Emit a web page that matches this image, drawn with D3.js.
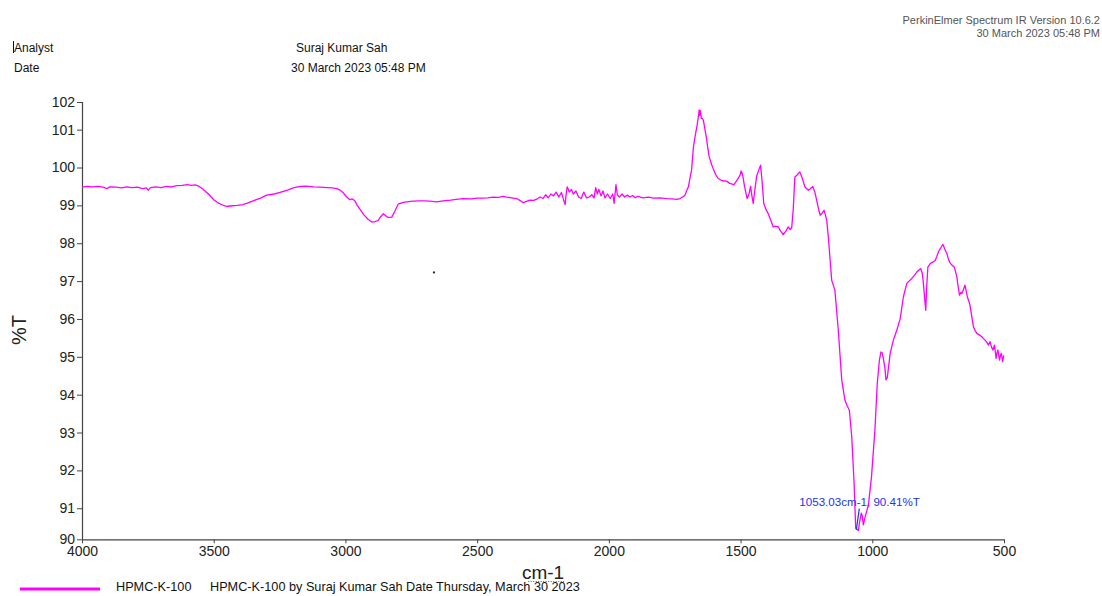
<!DOCTYPE html>
<html>
<head>
<meta charset="utf-8">
<script src="https://cdn.jsdelivr.net/npm/d3@7"></script>
<style>
  body { margin: 0; background: #fff; }
  svg { display: block; }
  text { font-family: "Liberation Sans", Arial, Helvetica, sans-serif; }
</style>
</head>
<body>
<svg id="chart" width="1102" height="596"></svg>
<script>
// FTIR spectrum of HPMC-K-100: [wavenumber (cm-1), %T]
const spectrum = [
  [4000, 99.48], [3980, 99.50], [3960, 99.49], [3940, 99.50], [3920, 99.48], [3905, 99.44],
  [3895, 99.49], [3870, 99.48], [3850, 99.46], [3830, 99.49], [3810, 99.47], [3790, 99.48],
  [3770, 99.44], [3755, 99.46], [3749, 99.40], [3740, 99.47], [3720, 99.49], [3700, 99.47],
  [3680, 99.50], [3660, 99.49], [3640, 99.52], [3620, 99.53], [3600, 99.55], [3585, 99.53],
  [3570, 99.54], [3555, 99.50], [3545, 99.45], [3520, 99.30], [3500, 99.15], [3480, 99.05],
  [3460, 98.99], [3451, 98.97], [3430, 98.99], [3410, 99.00], [3390, 99.02], [3375, 99.05],
  [3350, 99.12], [3320, 99.20], [3299, 99.27], [3270, 99.30], [3248, 99.34], [3220, 99.40],
  [3198, 99.46], [3172, 99.50], [3150, 99.51], [3120, 99.49], [3096, 99.48], [3070, 99.47],
  [3050, 99.46], [3033, 99.44], [3020, 99.40], [3008, 99.33], [2995, 99.22], [2983, 99.15],
  [2975, 99.17], [2965, 99.13], [2955, 99.00], [2945, 98.90], [2930, 98.75], [2915, 98.64],
  [2900, 98.56], [2888, 98.57], [2876, 98.60], [2866, 98.70], [2856, 98.78], [2846, 98.72],
  [2838, 98.68], [2824, 98.69], [2812, 98.85], [2800, 99.03], [2780, 99.08], [2760, 99.10],
  [2743, 99.11], [2720, 99.12], [2700, 99.12], [2680, 99.11], [2653, 99.09], [2630, 99.12],
  [2600, 99.14], [2580, 99.16], [2553, 99.18], [2520, 99.17], [2500, 99.19], [2480, 99.19],
  [2460, 99.20], [2440, 99.22], [2420, 99.21], [2400, 99.24], [2388, 99.22], [2370, 99.20],
  [2350, 99.18], [2335, 99.12], [2325, 99.07], [2315, 99.10], [2300, 99.14], [2285, 99.13],
  [2270, 99.18], [2261, 99.22], [2250, 99.18], [2240, 99.28], [2230, 99.20], [2220, 99.30],
  [2210, 99.25], [2200, 99.35], [2190, 99.22], [2180, 99.34], [2172, 99.15], [2166, 99.02],
  [2162, 99.30], [2158, 99.49], [2150, 99.35], [2142, 99.42], [2135, 99.30], [2125, 99.38],
  [2115, 99.22], [2105, 99.18], [2095, 99.35], [2085, 99.20], [2075, 99.22], [2065, 99.28],
  [2056, 99.20], [2050, 99.47], [2044, 99.30], [2038, 99.42], [2030, 99.25], [2022, 99.38],
  [2015, 99.20], [2005, 99.30], [1995, 99.18], [1985, 99.30], [1980, 99.05], [1975, 99.40],
  [1973, 99.55], [1968, 99.28], [1960, 99.22], [1950, 99.30], [1940, 99.22], [1930, 99.27],
  [1920, 99.22], [1910, 99.26], [1900, 99.20], [1890, 99.24], [1870, 99.20], [1850, 99.22],
  [1830, 99.19], [1806, 99.20], [1780, 99.18], [1760, 99.17], [1742, 99.16], [1730, 99.18],
  [1720, 99.22], [1711, 99.27], [1704, 99.40], [1698, 99.49], [1690, 99.80], [1686, 99.93],
  [1679, 100.54], [1672, 100.85], [1666, 101.07], [1660, 101.35], [1657, 101.52], [1655, 101.38],
  [1652, 101.50], [1649, 101.30], [1645, 101.30], [1641, 101.24], [1635, 101.00], [1630, 100.80],
  [1624, 100.50], [1619, 100.28], [1610, 100.08], [1604, 99.97], [1595, 99.82], [1585, 99.71],
  [1570, 99.65], [1553, 99.64], [1541, 99.58], [1525, 99.55], [1512, 99.68], [1502, 99.80],
  [1498, 99.91], [1492, 99.80], [1485, 99.50], [1475, 99.18], [1468, 99.30], [1462, 99.50],
  [1457, 99.25], [1452, 99.05], [1446, 99.40], [1439, 99.77], [1430, 99.95], [1424, 100.06],
  [1418, 99.60], [1412, 99.05], [1404, 98.90], [1395, 98.78], [1385, 98.60], [1376, 98.43],
  [1367, 98.45], [1357, 98.43], [1348, 98.32], [1338, 98.23], [1328, 98.32], [1319, 98.43],
  [1312, 98.36], [1306, 98.40], [1300, 98.90], [1294, 99.75], [1285, 99.80], [1280, 99.85],
  [1275, 99.88], [1265, 99.70], [1256, 99.49], [1243, 99.40], [1235, 99.44], [1226, 99.50],
  [1218, 99.35], [1211, 99.13], [1204, 98.90], [1198, 98.74], [1190, 98.80], [1183, 98.87],
  [1178, 98.75], [1173, 98.61], [1166, 98.10], [1160, 97.55], [1154, 97.02], [1142, 96.76],
  [1129, 95.70], [1116, 94.39], [1104, 93.86], [1095, 93.70], [1087, 93.59], [1078, 92.89],
  [1069, 91.66], [1063, 90.47], [1056, 90.43], [1053.03, 90.41], [1049, 90.60], [1042, 90.87],
  [1038, 90.80], [1034, 90.56], [1027, 90.78], [1020, 90.95], [1014, 91.13], [1003, 91.83],
  [990, 93.07], [981, 94.30], [973, 94.91], [967, 95.13], [962, 95.10], [958, 94.96],
  [952, 94.70], [948, 94.39], [943, 94.45], [937, 94.80], [932, 95.09], [920, 95.44],
  [907, 95.70], [894, 96.01], [882, 96.58], [869, 96.94], [860, 97.00], [850, 97.07],
  [840, 97.15], [831, 97.24], [822, 97.30], [816, 97.33], [810, 97.20], [806, 96.94],
  [800, 96.45], [797, 96.23], [793, 96.90], [789, 97.37], [780, 97.46], [770, 97.50],
  [761, 97.55], [755, 97.65], [749, 97.77], [740, 97.88], [732, 97.97], [725, 97.85],
  [717, 97.73], [711, 97.58], [705, 97.48], [697, 97.42], [689, 97.37], [684, 97.25],
  [679, 97.11], [674, 96.85], [669, 96.63], [664, 96.70], [660, 96.67], [654, 96.78],
  [648, 96.89], [643, 96.72], [639, 96.58], [634, 96.48], [629, 96.36], [622, 96.05],
  [616, 95.79], [610, 95.70], [603, 95.62], [594, 95.58], [584, 95.53], [578, 95.48],
  [572, 95.44], [565, 95.38], [559, 95.31], [553, 95.40], [547, 95.25], [542, 95.18],
  [536, 95.31], [530, 94.96], [526, 95.12], [523, 95.18], [517, 94.91], [513, 95.05],
  [510, 95.09], [505, 94.87], [501, 95.04]
];

// Axis extents and ticks
const xDomain = [4000, 500];
const yDomain = [90.18, 101.73];
const xTicks = [4000, 3500, 3000, 2500, 2000, 1500, 1000, 500];
const yTicks = [90.18, 91, 92, 93, 94, 95, 96, 97, 98, 99, 100, 101, 101.73];
const yTickLabels = ["90", "91", "92", "93", "94", "95", "96", "97", "98", "99", "100", "101", "102"];

// Peak pick annotation
const peakPick = { wavenumber: 1053.03, transmittance: 90.41, label: "1053.03cm-1, 90.41%T" };
const strayMark = [[2664, 97.23]];

// Header / footer texts
const headerLeft = [["Analyst", "Suraj Kumar Sah"], ["Date", "30 March 2023 05:48 PM"]];
const headerRight = ["PerkinElmer Spectrum IR Version 10.6.2", "30 March 2023 05:48 PM"];
const sampleName = "HPMC-K-100";
const sampleDescription = "HPMC-K-100 by Suraj Kumar Sah Date Thursday, March 30 2023";

const svg = d3.select("#chart");
svg.append("rect").attr("width", 1102).attr("height", 596).attr("fill", "#fff");

const plot = { left: 82, right: 1004, top: 102, bottom: 539.3 };
const x = d3.scaleLinear().domain(xDomain).range([plot.left, plot.right]);
const y = d3.scaleLinear().domain(yDomain).range([plot.bottom, plot.top]);

const axisColor = "#444";
const labelColor = "#222";
const traceColor = "#ff00ff";

// Header block
const hdr = svg.append("g").attr("font-size", 12).attr("fill", "#111");
headerLeft.forEach((row, i) => {
  hdr.append("text").attr("x", 14).attr("y", 52 + i * 20).text(row[0]);
  hdr.append("text").attr("x", i === 0 ? 296 : 291).attr("y", 52 + i * 20).text(row[1]);
});
hdr.append("line").attr("x1", 13.5).attr("x2", 13.5).attr("y1", 41).attr("y2", 53)
  .attr("stroke", "#111").attr("stroke-width", 1);

svg.append("g").attr("font-size", 11).attr("fill", "#555").attr("text-anchor", "end")
  .selectAll("text").data(headerRight).join("text")
  .attr("x", 1100).attr("y", (d, i) => 24 + i * 13).text(d => d);

// Y axis
const yAxis = svg.append("g").attr("transform", `translate(${plot.left},0)`)
  .call(d3.axisLeft(y).tickValues(yTicks).tickSize(5).tickPadding(2)
    .tickFormat((d, i) => yTickLabels[i]));
// X axis
const xAxis = svg.append("g").attr("transform", `translate(0,${plot.bottom})`)
  .call(d3.axisBottom(x).tickValues(xTicks).tickSize(4).tickPadding(3)
    .tickFormat(d3.format("d")));

[yAxis, xAxis].forEach(ax => {
  ax.select(".domain").attr("stroke", axisColor).attr("stroke-width", 1.2);
  ax.selectAll(".tick line").attr("stroke", axisColor);
  ax.selectAll(".tick text").attr("fill", labelColor).attr("font-size", 14)
    .attr("font-family", "'Liberation Sans', Arial, sans-serif");
});
yAxis.select(".domain").attr("d", `M0.5,${plot.top}V${plot.bottom}`);
xAxis.select(".domain").attr("d", `M${plot.left},0.5H${plot.right}`);

// Axis titles
svg.append("text").attr("transform", "translate(26,330) rotate(-90)")
  .attr("text-anchor", "middle").attr("font-size", 20).attr("fill", labelColor).text("%T");
const xTitle = svg.append("text").attr("x", (plot.left + plot.right) / 2).attr("y", 579)
  .attr("text-anchor", "middle").attr("font-size", 19).attr("fill", labelColor).text("cm-1");
const xtb = xTitle.node().getBBox();
svg.append("line").attr("x1", xtb.x + xtb.width * 0.15).attr("x2", xtb.x + xtb.width)
  .attr("y1", 581.5).attr("y2", 581.5)
  .attr("stroke", "#3355ee").attr("stroke-width", 1).attr("stroke-dasharray", "1,1.5");

// Spectrum trace
const line = d3.line().x(d => x(d[0])).y(d => y(d[1]));
svg.append("path").datum(spectrum).attr("d", line)
  .attr("fill", "none").attr("stroke", traceColor).attr("stroke-width", 1.3)
  .attr("stroke-linejoin", "round");

// Peak pick marker and label
const px = x(peakPick.wavenumber), py = y(peakPick.transmittance);
svg.append("line").attr("x1", px - 2).attr("y1", py - 1).attr("x2", px + 1).attr("y2", py - 22)
  .attr("stroke", "#2233dd").attr("stroke-width", 1.2);
svg.append("text").attr("x", px - 59).attr("y", py - 25).attr("font-size", 11.6)
  .attr("fill", "#2233ee").text(peakPick.label);

// Small point mark in plot area
svg.selectAll("circle.stray").data(strayMark).join("circle").attr("class", "stray")
  .attr("cx", d => x(d[0])).attr("cy", d => y(d[1])).attr("r", 1.1).attr("fill", "#222");

// Legend
const lg = svg.append("g");
lg.append("line").attr("x1", 20).attr("x2", 100).attr("y1", 589).attr("y2", 589)
  .attr("stroke", traceColor).attr("stroke-width", 3);
lg.append("text").attr("x", 116).attr("y", 591).attr("font-size", 12.7).attr("fill", "#111").text(sampleName);
lg.append("text").attr("x", 210).attr("y", 591).attr("font-size", 12.7).attr("fill", "#111").text(sampleDescription);
</script>
</body>
</html>
